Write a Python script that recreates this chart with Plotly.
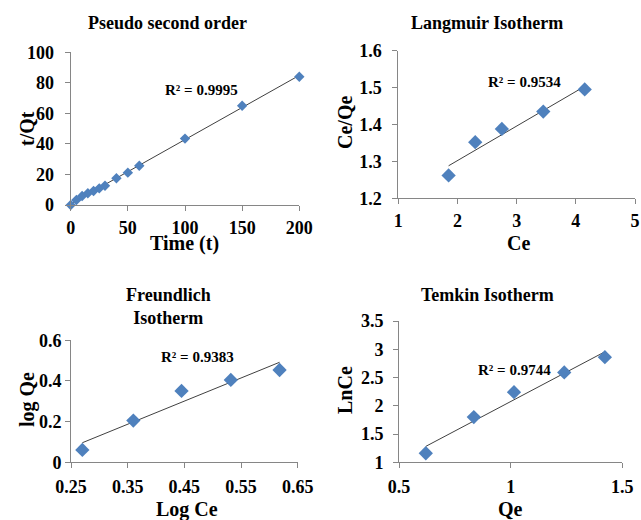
import numpy as np
import plotly.graph_objects as go

W, H = 641, 520

# ---- data ----
pso_t = [0, 5, 10, 15, 20, 25, 30, 40, 50, 60, 100, 150, 200]
pso_tq = [0, 3.3, 5.9, 7.7, 9.2, 10.9, 12.6, 17.5, 21.2, 25.7, 43.5, 65, 84]

lang_ce = [1.85, 2.3, 2.75, 3.45, 4.15]
lang_ceqe = [1.262, 1.352, 1.388, 1.435, 1.495]

fr_logce = [0.27, 0.36, 0.445, 0.532, 0.618]
fr_logqe = [0.061, 0.205, 0.351, 0.405, 0.454]

tk_qe = [0.62, 0.835, 1.015, 1.24, 1.422]
tk_lnce = [1.16, 1.80, 2.24, 2.59, 2.86]

r2_labels = ["R² = 0.9995", "R² = 0.9534", "R² = 0.9383", "R² = 0.9744"]
titles = ["Pseudo second order", "Langmuir Isotherm", "Freundlich<br>Isotherm", "Temkin Isotherm"]
xtitles = ["Time (t)", "Ce", "Log Ce", "Qe"]
ytitles = ["t/Qt", "Ce/Qe", "log Qe", "LnCe"]

FONT = "Liberation Serif"
MCOL = "#4F81BD"
LCOL = "#404040"
AXCOL = "#868686"

def px(x):
    return x / W

def py(y):
    return 1 - y / H

def bfont(size):
    return dict(family=FONT, size=size, color="black", weight="bold")

panels = [
    dict(x=pso_t, y=pso_tq, xd=[70.7, 299.3], yd=[205, 52.3], xr=[0, 200], yr=[0, 100], dx=50, dy=20, ms=8,
         xfmt=None, yfmt=None, ysd=7, xsd=1, r2=(114, 75.3), tpos=(167.5, 23), xtpos=(185, 243), ytpos=(27, 129)),
    dict(x=lang_ce, y=lang_ceqe, xd=[398.3, 635], yd=[198.3, 50.7], xr=[1, 5], yr=[1.2, 1.6], dx=1, dy=0.1, ms=11,
         xfmt=None, yfmt=".1f", ysd=7, xsd=1, r2=(3.13, 1.516), tpos=(487, 23), xtpos=(518, 243), ytpos=(345, 123)),
    dict(x=fr_logce, y=fr_logqe, xd=[71, 297.7], yd=[462.3, 340.3], xr=[0.25, 0.65], yr=[0, 0.6], dx=0.1, dy=0.2, ms=11,
         xfmt=".2f", yfmt=None, ysd=0, xsd=3, r2=(0.474, 0.519), tpos=(168, 306), xtpos=(187, 509), ytpos=(27, 400)),
    dict(x=tk_qe, y=tk_lnce, xd=[399, 622.3], yd=[462.3, 321], xr=[0.5, 1.5], yr=[1, 3.5], dx=0.5, dy=0.5, ms=11,
         xfmt=None, yfmt=None, ysd=6, xsd=3, r2=(1.016, 2.633), tpos=(487.5, 295), xtpos=(510, 509), ytpos=(345, 390)),
]

fig = go.Figure()
layout = dict(
    width=W, height=H, margin=dict(l=0, r=0, t=0, b=0, autoexpand=False),
    paper_bgcolor="white", plot_bgcolor="white", showlegend=False,
    font=dict(family=FONT, size=18, color="black"),
)
annotations = []

for i, p in enumerate(panels):
    n = "" if i == 0 else str(i + 1)
    xa, ya = "x" + n, "y" + n
    xs, ys = np.array(p["x"]), np.array(p["y"])
    m, b = np.polyfit(xs, ys, 1)
    lx = np.array([xs.min(), xs.max()])
    fig.add_trace(go.Scatter(x=lx, y=m * lx + b, mode="lines", line=dict(color=LCOL, width=1),
                             xaxis=xa, yaxis=ya, hoverinfo="skip"))
    fig.add_trace(go.Scatter(x=xs, y=ys, mode="markers",
                             marker=dict(symbol="diamond", size=p["ms"], color=MCOL),
                             xaxis=xa, yaxis=ya, cliponaxis=False))
    common = dict(showline=True, linecolor=AXCOL, linewidth=1, showgrid=False, zeroline=False,
                  ticks="outside", tickcolor=AXCOL, ticklen=5, automargin=False,
                  tickfont=bfont(18))
    xkw = dict(common, domain=[px(p["xd"][0]), px(p["xd"][1])], range=p["xr"], dtick=p["dx"],
               tick0=p["xr"][0], anchor=ya, ticklabelstandoff=p["xsd"])
    ykw = dict(common, domain=[py(p["yd"][0]), py(p["yd"][1])], range=p["yr"], dtick=p["dy"],
               tick0=p["yr"][0], anchor=xa, ticklabelstandoff=p["ysd"])
    if p["xfmt"]:
        xkw["tickformat"] = p["xfmt"]
    if p["yfmt"]:
        ykw["tickformat"] = p["yfmt"]
    layout["xaxis" + n] = xkw
    layout["yaxis" + n] = ykw
    annotations.append(dict(x=p["r2"][0], y=p["r2"][1], xref=xa, yref=ya, text=r2_labels[i],
                            xanchor="center", yanchor="middle", showarrow=False, font=bfont(15)))
    annotations.append(dict(x=px(p["tpos"][0]), y=py(p["tpos"][1]), xref="paper", yref="paper",
                            xanchor="center", yanchor="middle",
                            text=titles[i], showarrow=False, font=bfont(18)))
    annotations.append(dict(x=px(p["xtpos"][0]), y=py(p["xtpos"][1]), xref="paper", yref="paper",
                            xanchor="center", yanchor="middle",
                            text=xtitles[i], showarrow=False, font=bfont(20)))
    annotations.append(dict(x=px(p["ytpos"][0]), y=py(p["ytpos"][1]), xref="paper", yref="paper",
                            xanchor="center", yanchor="middle",
                            text=ytitles[i], showarrow=False, textangle=-90, font=bfont(20)))

layout["annotations"] = annotations
fig.update_layout(**layout)
fig.write_html("out.html")
